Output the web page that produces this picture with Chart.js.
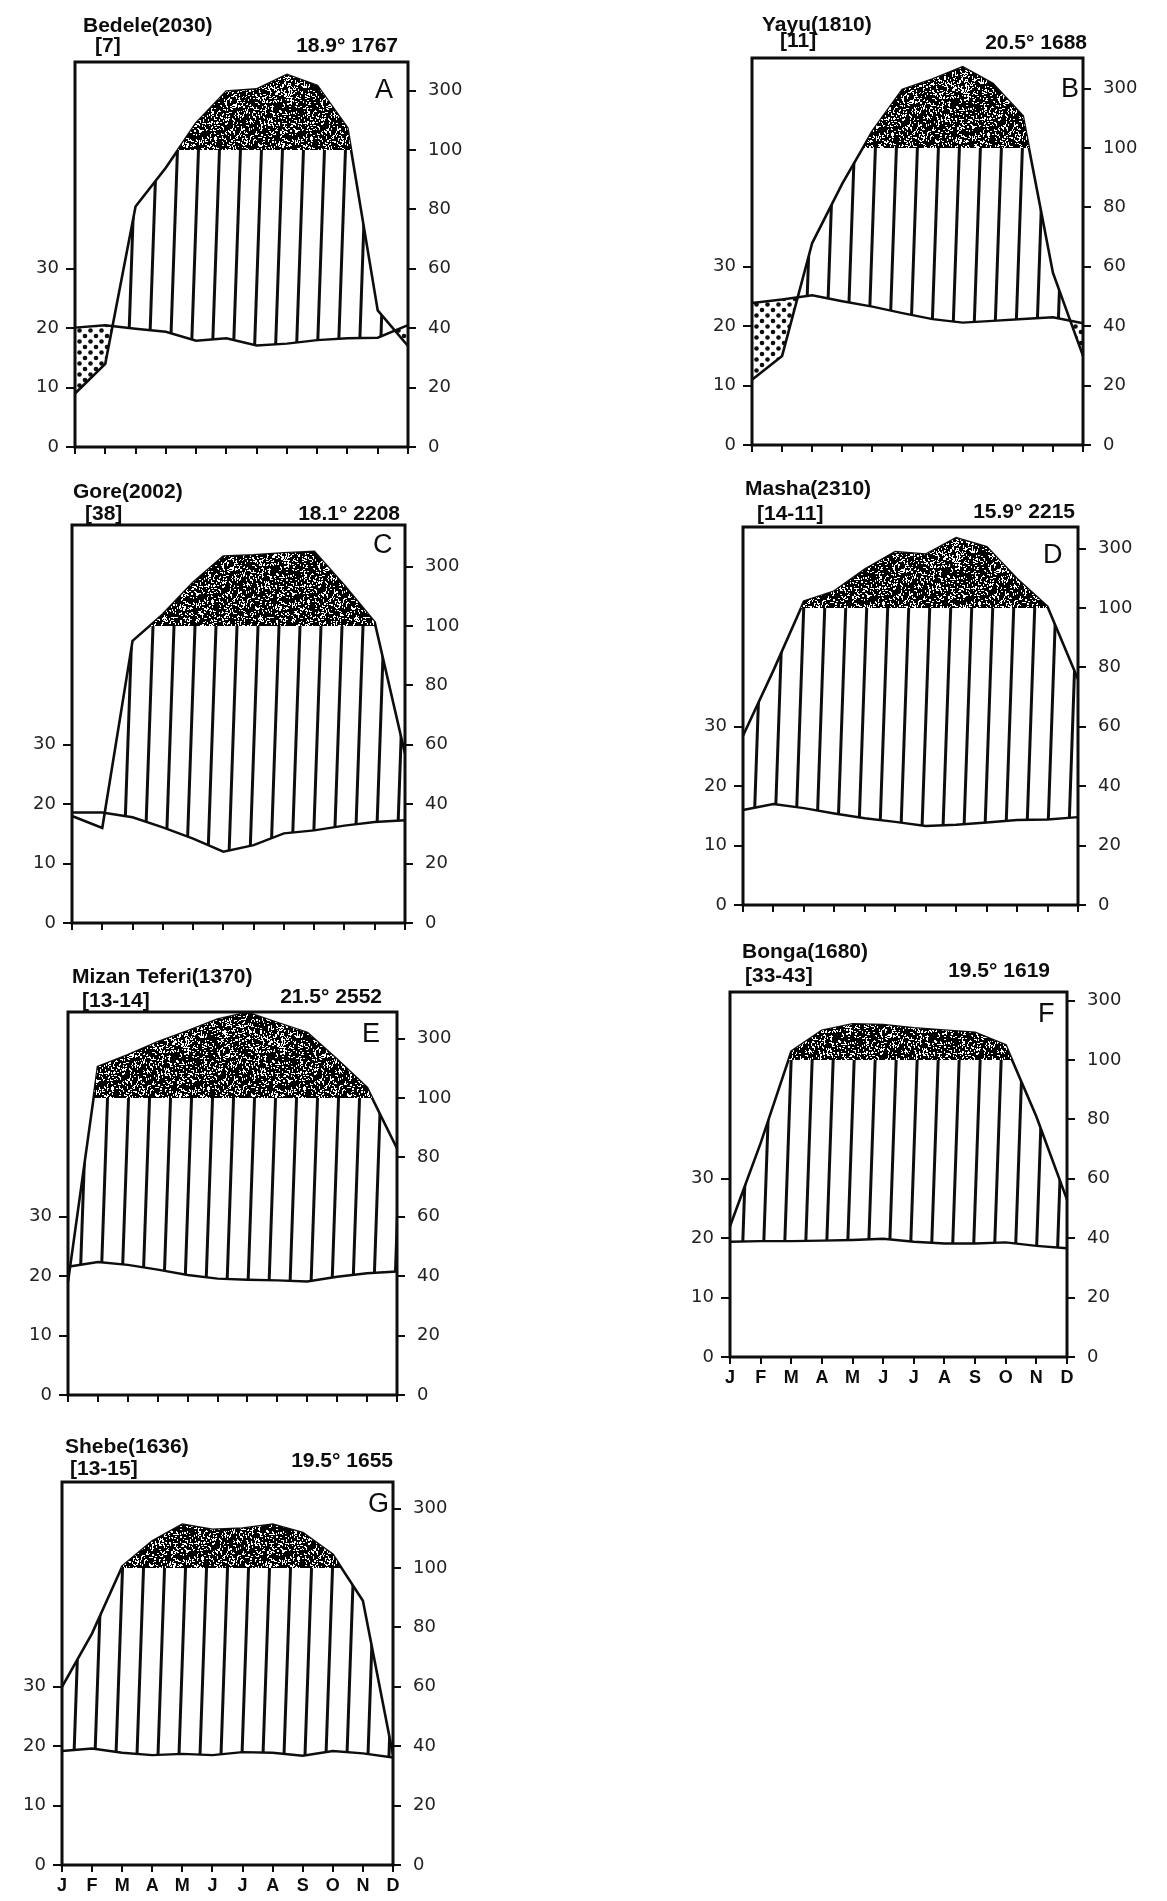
<!DOCTYPE html>
<html>
<head>
<meta charset="utf-8">
<script src="https://cdn.jsdelivr.net/npm/chart.js@4.4.1/dist/chart.umd.min.js"></script>
<style>
  html, body { margin: 0; padding: 0; background: #fff; }
  body { width: 1167px; height: 1901px; position: relative; overflow: hidden; }
  canvas { position: absolute; }
</style>
</head>
<body>
<script>
// ---- Climate diagram data (Walter-Lieth style) ----
const months = ['J', 'F', 'M', 'A', 'M', 'J', 'J', 'A', 'S', 'O', 'N', 'D'];
const tempTicks = [0, 10, 20, 30];
const rainTicks = [0, 20, 40, 60, 80, 100, 300];

const stationNames = ['Bedele(2030)', 'Yayu(1810)', 'Gore(2002)', 'Masha(2310)',
                      'Mizan Teferi(1370)', 'Bonga(1680)', 'Shebe(1636)'];
const recordYears = ['[7]', '[11]', '[38]', '[14-11]', '[13-14]', '[33-43]', '[13-15]'];
const meanTemps = [18.9, 20.5, 18.1, 15.9, 21.5, 19.5, 19.5];
const annualRain = [1767, 1688, 2208, 2215, 2552, 1619, 1655];
const panelLetters = ['A', 'B', 'C', 'D', 'E', 'F', 'G'];

// monthly mean temperature (°C) and precipitation (mm)
const tempBedele = [20.1, 20.5, 19.9, 19.4, 17.9, 18.3, 17.1, 17.4, 18.0, 18.3, 18.4, 20.5];
const rainBedele = [18, 28, 81, 94, 190, 297, 304, 353, 316, 173, 46, 34];

const tempYayu = [23.9, 24.5, 25.2, 24.2, 23.3, 22.2, 21.2, 20.6, 20.9, 21.2, 21.5, 20.5];
const rainYayu = [22, 30, 68, 88, 156, 296, 331, 372, 316, 207, 58, 30];

const tempGore = [18.6, 18.6, 17.8, 16.1, 14.2, 12.0, 13.1, 15.1, 15.6, 16.4, 17.0, 17.3];
const rainGore = [36, 32, 95, 139, 246, 334, 338, 345, 350, 235, 112, 57];

const tempMasha = [16.0, 17.0, 16.3, 15.4, 14.6, 14.0, 13.3, 13.5, 13.9, 14.3, 14.4, 14.8];
const rainMasha = [57, 79, 122, 156, 229, 288, 280, 335, 305, 197, 104, 76];

const tempMizan = [21.6, 22.4, 21.9, 21.1, 20.2, 19.6, 19.4, 19.3, 19.1, 19.9, 20.5, 20.8];
const rainMizan = [38, 205, 244, 288, 325, 364, 387, 353, 319, 229, 134, 83];

const tempBonga = [19.4, 19.5, 19.5, 19.6, 19.7, 19.9, 19.4, 19.1, 19.1, 19.3, 18.7, 18.3];
const rainBonga = [44, 72, 128, 199, 220, 218, 207, 199, 192, 150, 81, 53];

const tempShebe = [19.2, 19.6, 18.9, 18.5, 18.7, 18.5, 19.0, 18.9, 18.4, 19.2, 18.8, 18.1];
const rainShebe = [60, 78, 105, 190, 246, 229, 233, 246, 218, 145, 89, 37];

const stationTemps = [tempBedele, tempYayu, tempGore, tempMasha, tempMizan, tempBonga, tempShebe];
const stationRain = [rainBedele, rainYayu, rainGore, rainMasha, rainMizan, rainBonga, rainShebe];

// ---- Page layout of the seven diagrams (plot box: left, top, right, bottom) ----
const panelLayout = [
  { box: [75, 62, 408, 447],     name: [8, -30],  years: [20, -10], summary: [-10, -10], letter: [-33, 36], dots: true,  monthLabels: false },
  { box: [752, 58, 1083, 445],   name: [10, -27], years: [28, -11], summary: [4, -9],    letter: [-22, 39], dots: true,  monthLabels: false },
  { box: [72, 525, 405, 923],    name: [1, -27],  years: [13, -5],  summary: [-5, -5],   letter: [-32, 28], dots: false, monthLabels: false },
  { box: [743, 527, 1078, 905],  name: [2, -32],  years: [14, -7],  summary: [-3, -9],   letter: [-35, 36], dots: false, monthLabels: false },
  { box: [68, 1012, 397, 1395],  name: [4, -29],  years: [14, -5],  summary: [-15, -9],  letter: [-35, 30], dots: false, monthLabels: false },
  { box: [730, 992, 1067, 1357], name: [12, -34], years: [15, -10], summary: [-17, -15], letter: [-29, 30], dots: false, monthLabels: true },
  { box: [62, 1482, 393, 1865],  name: [3, -29],  years: [8, -7],   summary: [0, -15],   letter: [-25, 30], dots: false, monthLabels: true }
];

const INK = '#0d0d0d';
const PX_PER_UNIT = 2.97;          // pixels per 1 mm (= 0.5 °C) below the 100 mm line
const PAD_L = 70, PAD_T = 70, PAD_R = 72, PAD_B = 45;

// Above 100 mm the precipitation scale is compressed tenfold.
function rainToScale(p) {
  return p <= 100 ? p : 100 + (p - 100) / 10;
}

// ---- Fill patterns ----
function makePattern(w, h, paint) {
  const tile = document.createElement('canvas');
  tile.width = w; tile.height = h;
  const g = tile.getContext('2d');
  paint(g);
  return document.createElement('canvas').getContext('2d').createPattern(tile, 'repeat');
}

// integer hash used for the stipple texture
function hash2(x, y) {
  let h = Math.imul(x, 374761393) + Math.imul(y, 668265263);
  h = Math.imul(h ^ (h >>> 13), 1274126177);
  return ((h ^ (h >>> 16)) >>> 0) % 1000;
}

// humid season: slightly slanted vertical hatching
const HATCH_GAP = 21;
const hatch = makePattern(HATCH_GAP, 600, g => {
  g.strokeStyle = INK;
  g.lineWidth = 3;
  for (const off of [-HATCH_GAP, 0, HATCH_GAP]) {
    g.beginPath();
    g.moveTo(10 + off, 600);
    g.lineTo(10 + HATCH_GAP + off, 0);
    g.stroke();
  }
});

// perhumid season (> 100 mm): black stipple with small white specks
const STIPPLE = 96;
const stipple = makePattern(STIPPLE, STIPPLE, g => {
  g.fillStyle = '#000';
  g.fillRect(0, 0, STIPPLE, STIPPLE);
  g.fillStyle = '#fff';
  for (let y = 0; y < STIPPLE; y++) {
    for (let x = 0; x < STIPPLE; x++) {
      const k = hash2(x, y);
      if (k < 70) g.fillRect(x, y, 1, 2);
      else if (k < 120) g.fillRect(x, y, 2, 1);
      else if (k < 150) g.fillRect(x, y, 1, 1);
    }
  }
});

// arid season: dots
const dots = makePattern(11, 11, g => {
  g.fillStyle = INK;
  g.beginPath(); g.arc(3, 3, 2.3, 0, Math.PI * 2); g.fill();
  g.beginPath(); g.arc(8.5, 8.5, 2.3, 0, Math.PI * 2); g.fill();
});

Chart.defaults.font.family = '"DejaVu Sans", sans-serif';
Chart.defaults.color = '#222';

const tickFont = { family: '"DejaVu Sans", sans-serif', size: 18 };

panelLayout.forEach((lay, i) => {
  const [l, t, r, b] = lay.box;
  const w = r - l, h = b - t;
  const yMax = h / PX_PER_UNIT;

  const cv = document.createElement('canvas');
  cv.width = w + PAD_L + PAD_R;
  cv.height = h + PAD_T + PAD_B;
  cv.style.left = (l - PAD_L) + 'px';
  cv.style.top = (t - PAD_T) + 'px';
  cv.style.width = cv.width + 'px';
  cv.style.height = cv.height + 'px';
  document.body.appendChild(cv);

  const rainScaled = stationRain[i].map(rainToScale);

  const framePlugin = {
    id: 'frame',
    afterDraw(chart) {
      const { ctx, chartArea: a } = chart;
      ctx.save();
      ctx.strokeStyle = INK;
      ctx.lineWidth = 3;
      ctx.strokeRect(a.left, a.top, a.right - a.left, a.bottom - a.top);

      ctx.fillStyle = INK;
      ctx.textBaseline = 'alphabetic';
      ctx.font = 'bold 21px "Liberation Sans", Arial, sans-serif';
      ctx.textAlign = 'left';
      ctx.fillText(stationNames[i], a.left + lay.name[0], a.top + lay.name[1]);
      ctx.fillText(recordYears[i], a.left + lay.years[0], a.top + lay.years[1]);
      ctx.textAlign = 'right';
      ctx.fillText(meanTemps[i].toFixed(1) + '\u00B0 ' + annualRain[i], a.right + lay.summary[0], a.top + lay.summary[1]);

      ctx.textAlign = 'left';
      ctx.font = '27px "Liberation Sans", Arial, sans-serif';
      ctx.fillText(panelLetters[i], a.right + lay.letter[0], a.top + lay.letter[1]);
      ctx.restore();
    }
  };

  new Chart(cv, {
    type: 'line',
    data: {
      labels: months,
      datasets: [
        {
          label: 'Temperature',
          data: stationTemps[i],
          yAxisID: 'yT',
          borderColor: INK,
          borderWidth: 2.4,
          pointRadius: 0,
          tension: 0,
          fill: false
        },
        {
          label: 'Precipitation above 100 mm',
          data: rainScaled,
          yAxisID: 'yP',
          borderColor: 'rgba(0,0,0,0)',
          borderWidth: 1,
          pointRadius: 0,
          tension: 0,
          fill: { target: { value: 100 }, above: stipple, below: 'rgba(0,0,0,0)' }
        },
        {
          label: 'Precipitation',
          data: rainScaled,
          yAxisID: 'yP',
          borderColor: INK,
          borderWidth: 2.6,
          pointRadius: 0,
          tension: 0,
          fill: { target: 0, above: hatch, below: lay.dots ? dots : 'rgba(0,0,0,0)' }
        }
      ]
    },
    options: {
      responsive: false,
      animation: false,
      devicePixelRatio: 1,
      layout: { padding: { top: PAD_T, left: 0, right: 0, bottom: 0 } },
      plugins: { legend: { display: false }, tooltip: { enabled: false }, title: { display: false } },
      scales: {
        x: {
          type: 'category',
          offset: false,
          border: { display: false },
          grid: { display: true, drawOnChartArea: false, drawTicks: true, tickLength: 7, color: INK, lineWidth: 2, offset: false },
          ticks: {
            display: lay.monthLabels,
            autoSkip: false,
            maxRotation: 0,
            padding: 3,
            color: INK,
            font: { family: '"Liberation Sans", Arial, sans-serif', size: 18, weight: 'bold' }
          },
          afterFit: s => { s.height = PAD_B; }
        },
        yT: {
          type: 'linear',
          position: 'left',
          min: 0,
          max: yMax / 2,
          border: { display: false },
          grid: { drawOnChartArea: false, drawTicks: true, tickLength: 9, color: INK, lineWidth: 2 },
          afterBuildTicks: s => { s.ticks = tempTicks.map(v => ({ value: v })); },
          ticks: { padding: 7, font: tickFont, color: '#222', callback: v => String(v) },
          afterFit: s => { s.width = PAD_L; }
        },
        yP: {
          type: 'linear',
          position: 'right',
          min: 0,
          max: yMax,
          border: { display: false },
          grid: { drawOnChartArea: false, drawTicks: true, tickLength: 8, color: INK, lineWidth: 2 },
          afterBuildTicks: s => { s.ticks = rainTicks.map(v => ({ value: rainToScale(v) })); },
          ticks: { padding: 12, font: tickFont, color: '#222', autoSkip: false, callback: (v, idx) => String(rainTicks[idx]) },
          afterFit: s => { s.width = PAD_R; }
        }
      }
    },
    plugins: [framePlugin]
  });
});
</script>
</body>
</html>
